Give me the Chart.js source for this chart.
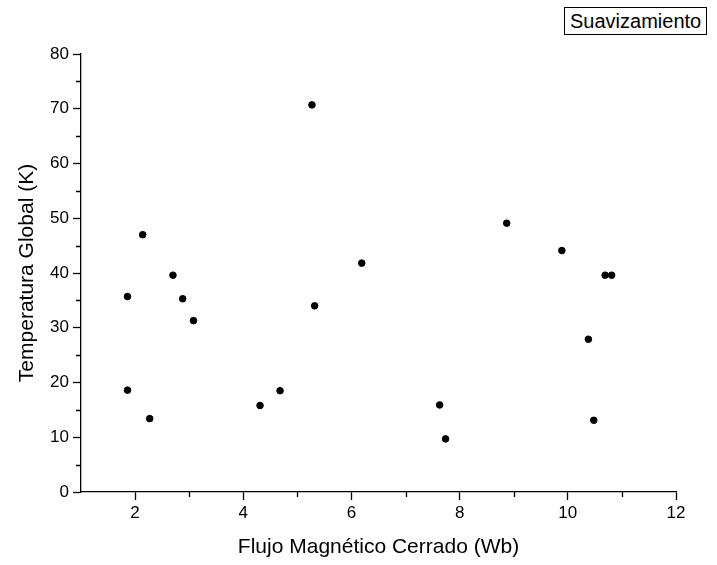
<!DOCTYPE html>
<html>
<head>
<meta charset="utf-8">
<script src="https://cdn.jsdelivr.net/npm/chart.js@4.4.1/dist/chart.umd.min.js"></script>
<style>
  body { margin: 0; background: #fff; }
  #wrap { position: relative; width: 717px; height: 565px; }
  #legend {
    position: absolute; left: 564px; top: 7px;
    border: 1px solid #000; padding: 0 5px;
    font-family: "Liberation Sans", Arial, sans-serif; font-size: 20px;
    line-height: 26px; color: #000; background: #fff;
  }
</style>
</head>
<body>
<div id="wrap">
  <canvas id="mycanvas1" width="717" height="565"></canvas>
  <div id="legend">Suavizamiento</div>
</div>
<script>
// flujo (Wb) vs temperatura (K)
var flujo = [1.86, 1.86, 2.14, 2.27, 2.70, 2.88, 3.08, 4.31, 4.68, 5.27,
             5.32, 6.19, 7.63, 7.74, 8.87, 9.89, 10.38, 10.69, 10.81, 10.48];
var temperatura = [35.7, 18.6, 47.0, 13.4, 39.6, 35.3, 31.3, 15.8, 18.5, 70.7,
                   34.0, 41.8, 15.9, 9.7, 49.1, 44.1, 27.9, 39.6, 39.6, 13.1];
var xTicks = [2, 4, 6, 8, 10, 12];
var xMinor = [3, 5, 7, 9, 11];
var yTicks = [0, 10, 20, 30, 40, 50, 60, 70, 80];
var yMinor = [5, 15, 25, 35, 45, 55, 65, 75];

var puntos = [];
for (var i = 0; i < flujo.length; i++) {
  puntos.push({ x: flujo[i], y: temperatura[i] });
}

var fuente = "'Liberation Sans', Arial, sans-serif";

// marcas menores (hacia afuera, mas cortas)
var minorTicks = {
  id: 'minorTicks',
  afterDraw: function(chart) {
    var ctx = chart.ctx;
    var xs = chart.scales.x, ys = chart.scales.y;
    var area = chart.chartArea;
    ctx.save();
    ctx.strokeStyle = '#000';
    ctx.lineWidth = 1.3;
    ctx.beginPath();
    xMinor.forEach(function(v) {
      var px = Math.round(xs.getPixelForValue(v)) + 0.5;
      ctx.moveTo(px, area.bottom);
      ctx.lineTo(px, area.bottom + 5);
    });
    yMinor.forEach(function(v) {
      var py = Math.round(ys.getPixelForValue(v)) + 0.5;
      ctx.moveTo(area.left, py);
      ctx.lineTo(area.left - 5, py);
    });
    ctx.stroke();
    ctx.restore();
  }
};

var ctx = document.getElementById('mycanvas1');
new Chart(ctx, {
  type: 'scatter',
  data: {
    datasets: [{
      label: 'Suavizamiento',
      data: puntos,
      backgroundColor: '#000',
      borderColor: '#000',
      pointRadius: 3.3,
      pointHoverRadius: 3.3
    }]
  },
  options: {
    responsive: false,
    animation: false,
    layout: { padding: { left: 0, top: 54, right: 41, bottom: 0 } },
    plugins: { legend: { display: false }, tooltip: { enabled: false } },
    scales: {
      x: {
        type: 'linear', min: 1, max: 12,
        afterBuildTicks: function(s) { s.ticks = xTicks.map(function(v) { return { value: v }; }); },
        afterFit: function(s) { s.height = 73; },
        grid: { drawOnChartArea: false, tickLength: 8, tickColor: '#000', tickWidth: 1.3 },
        border: { color: '#000', width: 1.3 },
        ticks: { color: '#000', padding: 3, font: { family: fuente, size: 17 }, maxRotation: 0 },
        title: { display: true, text: 'Flujo Magnético Cerrado (Wb)', color: '#000',
                 font: { family: fuente, size: 21 }, padding: { top: 0, bottom: 5 } }
      },
      y: {
        type: 'linear', min: 0, max: 80,
        afterBuildTicks: function(s) { s.ticks = yTicks.map(function(v) { return { value: v }; }); },
        afterFit: function(s) { s.width = 81; },
        grid: { drawOnChartArea: false, tickLength: 8, tickColor: '#000', tickWidth: 1.3 },
        border: { color: '#000', width: 1.3 },
        ticks: { color: '#000', padding: 4, font: { family: fuente, size: 17 } },
        title: { display: true, text: 'Temperatura Global (K)', color: '#000',
                 font: { family: fuente, size: 21 }, padding: { top: 15, bottom: 0 } }
      }
    }
  },
  plugins: [minorTicks]
});
</script>
</body>
</html>
